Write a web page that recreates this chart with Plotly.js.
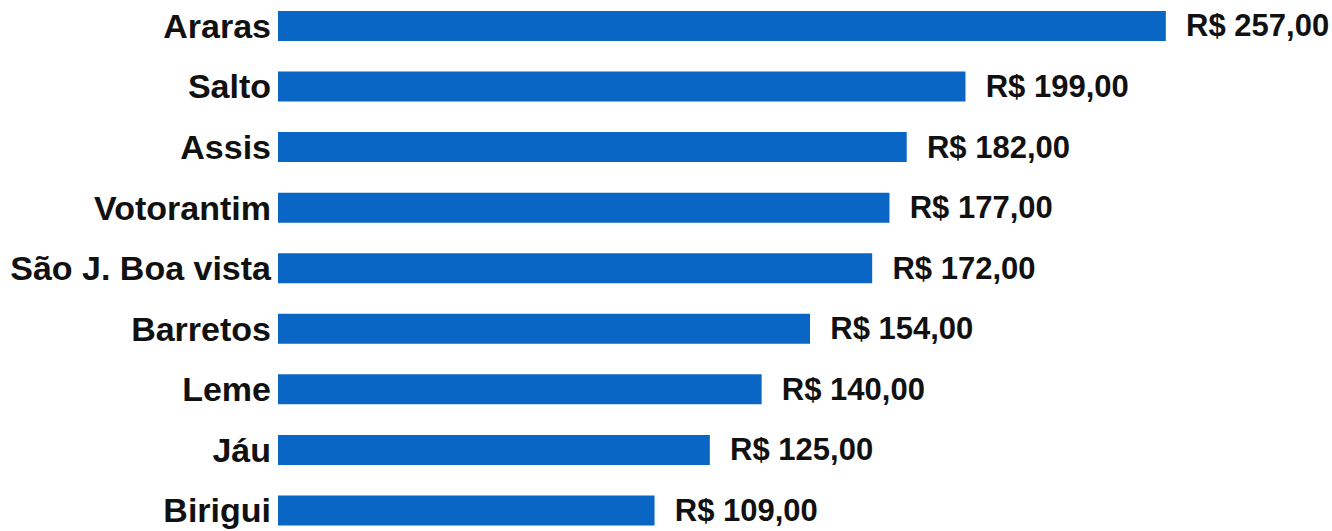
<!DOCTYPE html>
<html>
<head>
<meta charset="utf-8">
<script src="https://cdn.plot.ly/plotly-3.0.1.min.js"></script>
<style>html,body{margin:0;padding:0;background:#fff;}#chart{width:1332px;height:531px;}</style>
</head>
<body>
<div id="chart"></div>
<script>
const cities = ["Araras", "Salto", "Assis", "Votorantim", "São J. Boa vista", "Barretos", "Leme", "Jáu", "Birigui"];
const prices = [257, 199, 182, 177, 172, 154, 140, 125, 109];

const trace = {
  type: 'bar',
  orientation: 'h',
  y: cities,
  x: prices,
  width: 0.495,
  marker: {color: '#0a66c4', line: {width: 0}},
  texttemplate: '\u00a0\u00a0R$ %{x:.2f}',
  textposition: 'outside',
  constraintext: 'none',
  cliponaxis: false,
  textfont: {family: 'Arial, "Liberation Sans", sans-serif', size: 31, color: '#111', weight: 700},
  hoverinfo: 'skip'
};

const layout = {
  width: 1332, height: 531,
  margin: {l: 278, r: 0, t: 0, b: 0},
  separators: ',.',
  paper_bgcolor: '#fff', plot_bgcolor: '#fff',
  showlegend: false,
  xaxis: {range: [0, 305.1], visible: false, fixedrange: true},
  yaxis: {
    type: 'category',
    range: [8.339, -0.429],
    showgrid: false, zeroline: false, showline: false,
    ticks: '', ticklabelstandoff: 6,
    tickfont: {family: 'Arial, "Liberation Sans", sans-serif', size: 34, color: '#111', weight: 700},
    fixedrange: true
  }
};

Plotly.newPlot('chart', [trace], layout, {displayModeBar: false, staticPlot: true});
</script>
</body>
</html>
